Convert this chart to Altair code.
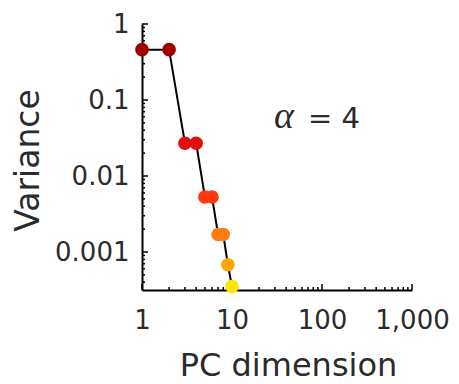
import altair as alt
import pandas as pd

# Scree data: variance of each principal component
pc_dim = [1, 2, 3, 4, 5, 6, 7, 8, 9, 10]
variance = [0.46, 0.46, 0.027, 0.027, 0.0053, 0.0053, 0.0017, 0.0017, 0.00068, 0.00035]
point_colors = ["#a00000", "#a00000", "#e01010", "#e01010", "#ff3a10", "#ff3a10",
                "#ff7a10", "#ff7a10", "#ffa500", "#ffe600"]

# Axis tick positions
x_major = [1, 10, 100, 1000]
y_major = [0.001, 0.01, 0.1, 1]
multipliers = [2, 3, 4, 5, 6, 7, 8, 9]
x_decades = [1, 10, 100]
y_decades = [0.0001, 0.001, 0.01, 0.1]

W, H = 270, 266
FONT = "DejaVu Sans"
TEXT = "#2b2b2b"
Y_MIN = 10 ** -3.5

x_minor = [m * d for d in x_decades for m in multipliers]
y_minor = [m * d for d in y_decades for m in multipliers if Y_MIN <= m * d <= 1]

df = pd.DataFrame({"pc": pc_dim, "var": variance, "col": point_colors})

xscale = alt.Scale(type="log", domain=[1, 1000], nice=False)
yscale = alt.Scale(type="log", domain=[Y_MIN, 1], nice=False)

x_axis = alt.Axis(values=x_major, format=",", title="PC dimension", grid=False,
                  ticks=False, tickSize=0, domainColor="black", domainWidth=2,
                  labelFont=FONT, labelFontSize=26, labelColor=TEXT, labelPadding=17,
                  labelFlush=False,
                  titleFont=FONT, titleFontSize=32, titleFontWeight="normal",
                  titleColor=TEXT, titleX=146, titleY=85, titleAlign="center",
                  titleBaseline="alphabetic")
y_axis = alt.Axis(values=y_major, format="~g", title="Variance", grid=False,
                  ticks=False, tickSize=0, domainColor="black", domainWidth=2,
                  labelFont=FONT, labelFontSize=26, labelColor=TEXT, labelPadding=13,
                  labelFlush=False,
                  titleFont=FONT, titleFontSize=33, titleFontWeight="normal",
                  titleColor=TEXT, titleX=-104, titleY=136, titleAlign="center",
                  titleBaseline="alphabetic", titleAngle=270)

X = alt.X("pc:Q", scale=xscale, axis=x_axis)
Y = alt.Y("var:Q", scale=yscale, axis=y_axis)

line = alt.Chart(df).mark_line(color="black", strokeWidth=2).encode(
    x=X, y=Y, order="pc:Q",
)

points = alt.Chart(df).mark_circle(size=185, opacity=1).encode(
    x=X, y=Y,
    color=alt.Color("col:N", scale=None),
)


def x_ticks(vals, length):
    return alt.Chart(pd.DataFrame({"v": vals})).mark_rule(color="black", strokeWidth=1.5).encode(
        x=alt.X("v:Q", scale=xscale, axis=x_axis),
        y=alt.value(H),
        y2=alt.value(H - length),
    )


def y_ticks(vals, length):
    return alt.Chart(pd.DataFrame({"v": vals})).mark_rule(color="black", strokeWidth=1.5).encode(
        y=alt.Y("v:Q", scale=yscale, axis=y_axis),
        x=alt.value(0),
        x2=alt.value(length),
    )


alpha_label = alt.Chart(pd.DataFrame({"t": ["α"]})).mark_text(
    font="Liberation Serif", fontStyle="italic", fontSize=38, color=TEXT,
    align="left", baseline="alphabetic",
).encode(text="t:N", x=alt.value(132), y=alt.value(104))

value_label = alt.Chart(pd.DataFrame({"t": ["= 4"]})).mark_text(
    font=FONT, fontSize=29, color=TEXT, align="left", baseline="alphabetic",
).encode(text="t:N", x=alt.value(166), y=alt.value(104))

chart = alt.layer(
    line,
    x_ticks(x_minor, 3), x_ticks(x_major, 6),
    y_ticks(y_minor, 3), y_ticks(y_major, 6),
    points, alpha_label, value_label,
).properties(
    width=W, height=H,
    padding={"left": 142, "top": 24, "right": 47, "bottom": 94},
    autosize=alt.AutoSizeParams(type="none"),
).configure_view(stroke=None)

chart.save("out.html", embed_options={"renderer": "svg", "actions": False})
